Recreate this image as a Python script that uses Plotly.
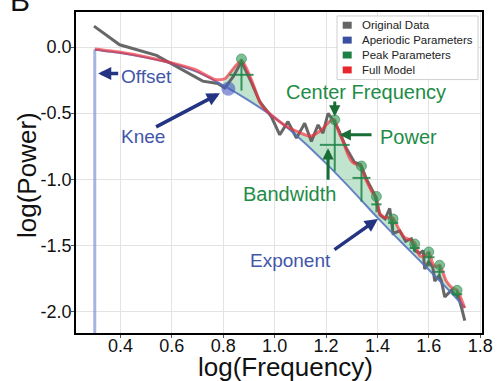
import plotly.graph_objects as go

# ---------------- data ----------------
freq_orig = [0.297, 0.397, 0.54, 0.63, 0.689, 0.72, 0.779, 0.806, 0.84, 0.871, 0.91, 0.942,
             0.987, 1.02, 1.052, 1.085, 1.117, 1.143, 1.169, 1.188, 1.208, 1.227, 1.25,
             1.28, 1.31, 1.335, 1.36, 1.39, 1.41, 1.43, 1.448, 1.461, 1.487, 1.51, 1.532,
             1.545, 1.565, 1.578, 1.584, 1.60, 1.616, 1.623, 1.64, 1.649, 1.662, 1.688,
             1.70, 1.714, 1.727, 1.74]
power_orig = [0.158, 0.017, -0.063, -0.16, -0.226, -0.258, -0.276, -0.31, -0.22, -0.11, -0.27,
              -0.414, -0.526, -0.664, -0.564, -0.689, -0.576, -0.714, -0.589, -0.652, -0.501,
              -0.551, -0.63, -0.77, -0.87, -0.89, -1.01, -1.12, -1.27, -1.30, -1.22, -1.41,
              -1.39, -1.47, -1.45, -1.54, -1.56, -1.54, -1.68, -1.62, -1.67, -1.77, -1.73,
              -1.77, -1.89, -1.84, -1.87, -1.88, -1.97, -2.07]

freq_ap = [0.30, 0.40, 0.50, 0.60, 0.70, 0.80, 0.90, 1.00, 1.10, 1.20, 1.30, 1.40, 1.50,
           1.60, 1.70, 1.74]
power_ap = [-0.02, -0.045, -0.08, -0.125, -0.19, -0.29, -0.405, -0.535, -0.695, -0.88,
            -1.08, -1.29, -1.49, -1.685, -1.885, -1.97]

freq_model = [0.30, 0.40, 0.50, 0.60, 0.69, 0.767, 0.806, 0.871, 0.916, 0.935, 0.955, 1.00,
              1.05, 1.09, 1.137, 1.182, 1.214, 1.234, 1.247, 1.266, 1.286, 1.30, 1.32, 1.331,
              1.35, 1.377, 1.396, 1.409, 1.43, 1.45, 1.461, 1.487, 1.506, 1.53, 1.545, 1.565,
              1.585, 1.60, 1.616, 1.63, 1.642, 1.668, 1.69, 1.71, 1.74]
power_model = [-0.015, -0.04, -0.075, -0.12, -0.17, -0.245, -0.24, -0.10, -0.28, -0.38, -0.455,
               -0.535, -0.605, -0.64, -0.675, -0.627, -0.564, -0.551, -0.63, -0.714, -0.815,
               -0.865, -0.89, -0.895, -0.98, -1.09, -1.14, -1.26, -1.29, -1.29, -1.295, -1.39,
               -1.44, -1.46, -1.48, -1.58, -1.58, -1.55, -1.64, -1.66, -1.65, -1.77, -1.82,
               -1.84, -1.975]

knee_freq = [0.82]
knee_power = [-0.315]

peak_cf = [0.871, 1.234, 1.338, 1.396, 1.461, 1.545, 1.600, 1.642, 1.710]
peak_top = [-0.09, -0.55, -0.90, -1.13, -1.30, -1.49, -1.55, -1.65, -1.84]
peak_base = [-0.33, -0.94, -1.17, -1.25, -1.38, -1.55, -1.66, -1.74, -1.90]
peak_half = [-0.21, -0.74, -0.99, -1.19, -1.33, -1.52, -1.59, -1.70, -1.87]
peak_bw = [0.047, 0.058, 0.035, 0.02, 0.02, 0.02, 0.022, 0.02, 0.02]

x_ticks = [0.4, 0.6, 0.8, 1.0, 1.2, 1.4, 1.6, 1.8]
x_ticktext = ["0.4", "0.6", "0.8", "1.0", "1.2", "1.4", "1.6", "1.8"]
y_ticks = [0.0, -0.5, -1.0, -1.5, -2.0]
y_ticktext = ["0.0", "-0.5", "-1.0", "-1.5", "-2.0"]

legend_labels = ["Original Data", "Aperiodic Parameters", "Peak Parameters", "Full Model"]
legend_colors = ["#666666", "#3a4fa0", "#1e8045", "#e8262c"]

# ---------------- styling ----------------
W, H = 503, 381
ML, MR, MT, MB = 76, 21, 10, 48
X_RANGE = [0.227, 1.807]
Y_RANGE = [-2.163, 0.265]
FONT = "Liberation Sans, Arial, sans-serif"
BLUE_TXT = "rgb(66,86,170)"
GREEN_TXT = "rgb(30,140,70)"
ARROW_BLUE = "rgb(36,52,130)"
ARROW_GREEN = "rgb(25,110,55)"


def pxx(px):
    return (px - ML) / (W - ML - MR)


def pxy(py):
    return 1 - (py - MT) / (H - MT - MB)


fig = go.Figure()

# offset vertical line
fig.add_trace(go.Scatter(x=[freq_ap[0], freq_ap[0]], y=[power_ap[0], Y_RANGE[0] - 1],
                         mode="lines", line=dict(color="rgba(120,140,210,0.65)", width=3),
                         showlegend=False, hoverinfo="skip"))

# fill between aperiodic and full model (peak region)
sel_ap = [i for i, f in enumerate(freq_ap) if f >= 0.80]
sel_md = [i for i, f in enumerate(freq_model) if f >= 0.80]
fig.add_trace(go.Scatter(x=[freq_ap[i] for i in sel_ap], y=[power_ap[i] for i in sel_ap],
                         mode="lines", line=dict(width=0, shape="spline", smoothing=0.6),
                         showlegend=False, hoverinfo="skip"))
fig.add_trace(go.Scatter(x=[freq_model[i] for i in sel_md], y=[power_model[i] for i in sel_md],
                         mode="lines", line=dict(width=0, shape="spline", smoothing=0.6),
                         fill="tonexty", fillcolor="rgba(60,170,100,0.32)",
                         showlegend=False, hoverinfo="skip"))

# original data
fig.add_trace(go.Scatter(x=freq_orig, y=power_orig, mode="lines",
                         line=dict(color="rgba(95,95,95,0.95)", width=3),
                         showlegend=False, hoverinfo="skip"))
# aperiodic fit
fig.add_trace(go.Scatter(x=freq_ap, y=power_ap, mode="lines",
                         line=dict(color="rgba(80,110,190,0.85)", width=2, shape="spline", smoothing=0.6),
                         showlegend=False, hoverinfo="skip"))
# full model
fig.add_trace(go.Scatter(x=freq_model, y=power_model, mode="lines",
                         line=dict(color="rgba(240,50,60,0.68)", width=3, shape="spline", smoothing=0.6),
                         showlegend=False, hoverinfo="skip"))

# peak crosses
for cf, top, base, half, bw in zip(peak_cf, peak_top, peak_base, peak_half, peak_bw):
    fig.add_trace(go.Scatter(x=[cf, cf, None, cf - bw, cf + bw], y=[top, base, None, half, half],
                             mode="lines", line=dict(color="rgba(30,130,70,0.85)", width=2),
                             showlegend=False, hoverinfo="skip"))
# peak dots
fig.add_trace(go.Scatter(x=peak_cf, y=peak_top, mode="markers",
                         marker=dict(color="rgba(40,150,80,0.6)", size=10,
                                     line=dict(color="rgba(30,120,60,0.5)", width=1)),
                         showlegend=False, hoverinfo="skip"))
# knee marker
fig.add_trace(go.Scatter(x=knee_freq, y=knee_power, mode="markers",
                         marker=dict(color="rgba(70,90,190,0.6)", size=14),
                         showlegend=False, hoverinfo="skip"))

ann = []


def arrow(x, y, ax, ay, color, width=3.5, size=0.75):
    ann.append(dict(x=x, y=y, ax=ax, ay=ay, xref="x", yref="y", axref="x", ayref="y",
                    text="", showarrow=True, arrowhead=2, arrowsize=size,
                    arrowwidth=width, arrowcolor=color))


def label(x, y, t, color, size):
    ann.append(dict(x=x, y=y, xref="x", yref="y", text=t, showarrow=False,
                    font=dict(family=FONT, size=size, color=color),
                    xanchor="center", yanchor="middle"))


arrow(0.313, -0.20, 0.397, -0.20, ARROW_BLUE)
arrow(0.787, -0.35, 0.533, -0.61, ARROW_BLUE)
arrow(1.402, -1.30, 1.227, -1.54, ARROW_BLUE)
arrow(1.234, -0.526, 1.234, -0.40, ARROW_GREEN, width=3.0)
arrow(1.253, -0.664, 1.383, -0.664, ARROW_GREEN, width=3.0)
arrow(1.208, -0.765, 1.208, -1.015, ARROW_GREEN, width=3.0)

label(0.503, -0.22, "Offset", BLUE_TXT, 19)
label(0.489, -0.677, "Knee", BLUE_TXT, 19)
label(1.062, -1.617, "Exponent", BLUE_TXT, 19)
label(1.357, -0.338, "Center Frequency", GREEN_TXT, 20)
label(1.52, -0.677, "Power", GREEN_TXT, 20)
label(1.056, -1.113, "Bandwidth", GREEN_TXT, 20)

# axis titles
ann.append(dict(x=pxx(285.5), y=pxy(367), xref="paper", yref="paper", text="log(Frequency)",
                showarrow=False, font=dict(family=FONT, size=26, color="#111"),
                xanchor="center", yanchor="middle"))
ann.append(dict(x=pxx(27), y=pxy(174), xref="paper", yref="paper", text="log(Power)",
                showarrow=False, textangle=-90, font=dict(family=FONT, size=26, color="#111"),
                xanchor="center", yanchor="middle"))
# panel letter (partly cut off at the top edge)
ann.append(dict(x=pxx(20), y=pxy(-2), xref="paper", yref="paper", text="B",
                showarrow=False, font=dict(family=FONT, size=30, color="#111"),
                xanchor="center", yanchor="middle"))

# manual legend
shapes = [dict(type="rect", xref="paper", yref="paper", x0=pxx(337), x1=pxx(478),
               y0=pxy(78), y1=pxy(14), line=dict(color="#d0d0d0", width=1),
               fillcolor="rgba(255,255,255,0.9)")]
for i, (lab, col) in enumerate(zip(legend_labels, legend_colors)):
    cy = 23.3 + 15 * i
    shapes.append(dict(type="rect", xref="paper", yref="paper", x0=pxx(342.7), x1=pxx(351.7),
                       y0=pxy(cy + 3.5), y1=pxy(cy - 3.5), line=dict(width=0), fillcolor=col))
    ann.append(dict(x=pxx(360), y=pxy(cy), xref="paper", yref="paper", text=lab,
                    showarrow=False, font=dict(family=FONT, size=11.5, color="#222"),
                    xanchor="left", yanchor="middle"))

fig.update_layout(
    width=W, height=H, margin=dict(l=ML, r=MR, t=MT, b=MB),
    paper_bgcolor="white", plot_bgcolor="white",
    font=dict(family=FONT, color="#111"),
    annotations=ann, shapes=shapes, showlegend=False,
    xaxis=dict(range=X_RANGE, tickvals=x_ticks, ticktext=x_ticktext,
               tickfont=dict(size=18, family=FONT, color="#111"),
               showgrid=True, gridcolor="#e3e3e3", gridwidth=1, zeroline=False,
               showline=True, linecolor="black", linewidth=1.5, mirror=True,
               ticks="outside", ticklen=3, tickcolor="#555", ticklabelstandoff=-7),
    yaxis=dict(range=Y_RANGE, tickvals=y_ticks, ticktext=y_ticktext,
               tickfont=dict(size=18, family=FONT, color="#111"),
               showgrid=True, gridcolor="#e3e3e3", gridwidth=1, zeroline=False,
               showline=True, linecolor="black", linewidth=1.5, mirror=True,
               ticks="outside", ticklen=3, tickcolor="#555", ticklabelstandoff=-4),
)

fig.write_html("out.html")
